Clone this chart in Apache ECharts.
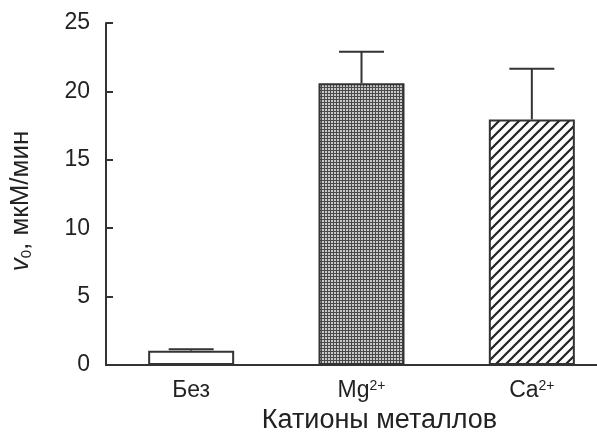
<!DOCTYPE html>
<html><head><meta charset="utf-8">
<script src="https://cdn.jsdelivr.net/npm/echarts@6/dist/echarts.min.js"></script>
<style>html,body{margin:0;padding:0;background:#fff}#c{width:597px;height:432px}</style>
</head><body><div id="c"></div>
<script>
const categories = ['Без', 'Mg2+', 'Ca2+'];
const values = [1.05, 20.6, 17.95];
const errors = [0.1, 2.3, 3.7];
const yTicks = [0, 5, 10, 15, 20, 25];

function hatch() {
  const c = document.createElement('canvas'); c.width = 10; c.height = 10;
  const g = c.getContext('2d');
  g.fillStyle = '#fff'; g.fillRect(0, 0, 10, 10);
  g.strokeStyle = '#222'; g.lineWidth = 2.2;
  g.beginPath();
  g.moveTo(-5, 5); g.lineTo(5, -5);
  g.moveTo(0, 10); g.lineTo(10, 0);
  g.moveTo(5, 15); g.lineTo(15, 5);
  g.stroke();
  return c;
}
function dots() {
  const c = document.createElement('canvas'); c.width = 3; c.height = 3;
  const g = c.getContext('2d');
  g.fillStyle = '#4a4a4a'; g.fillRect(0, 0, 3, 3);
  g.fillStyle = '#c8c8c8'; g.fillRect(1, 1, 2, 2);
  return c;
}
const fills = ['#ffffff', { image: dots(), repeat: 'repeat' }, { image: hatch(), repeat: 'repeat' }];
const F = 'Liberation Sans';

const chart = echarts.init(document.getElementById('c'));
chart.setOption({
  animation: false,
  grid: { left: 106, top: 23, width: 511, height: 342, containLabel: false, outerBoundsMode: 'none' },
  xAxis: {
    type: 'category', data: categories,
    axisLine: { lineStyle: { color: '#333', width: 2 } },
    axisTick: { show: false },
    axisLabel: {
      margin: 14, color: '#222', fontSize: 23, fontFamily: F,
      formatter: v => v.replace(/(\d\+)$/, '{s|$1}'),
      rich: { s: { fontSize: 14, verticalAlign: 'top', color: '#222', fontFamily: F, padding: [0, 0, 9, 0] } }
    },
    name: 'Катионы металлов', nameLocation: 'middle', nameGap: 42,
    nameTextStyle: { fontSize: 27, color: '#222', fontFamily: F, padding: [0, 0, 0, 36] }
  },
  yAxis: {
    type: 'value', min: yTicks[0], max: yTicks[yTicks.length - 1], interval: 5,
    splitLine: { show: false },
    axisLine: { show: true, lineStyle: { color: '#333', width: 2 } },
    axisTick: { show: true, inside: true, length: 7, lineStyle: { color: '#333', width: 2 } },
    axisLabel: { margin: 16, color: '#222', fontSize: 23, fontFamily: F },
    name: '{i|v}{sub|0}{t|, мкМ/мин}', nameLocation: 'middle', nameGap: 72, nameRotate: 90,
    nameTextStyle: {
      fontSize: 26, color: '#222', fontFamily: F, padding: [0, 14, 0, 0],
      rich: {
        i: { fontSize: 26, fontStyle: 'italic', color: '#222', fontFamily: F },
        t: { fontSize: 26, color: '#222', fontFamily: F },
        sub: { fontSize: 15, color: '#222', fontFamily: F, verticalAlign: 'bottom', padding: [11, 0, 0, 0] }
      }
    }
  },
  series: [
    {
      type: 'bar', barWidth: 86,
      data: values.map((v, i) => ({ value: v, itemStyle: { color: fills[i] } })),
      itemStyle: { borderColor: '#333', borderWidth: 2 }
    },
    {
      type: 'custom', z: 5,
      data: values.map((v, i) => [i, v, v + errors[i]]),
      renderItem: (params, api) => {
        const lo = api.coord([api.value(0), api.value(1)]);
        const hi = api.coord([api.value(0), api.value(2)]);
        const hw = 22.5;
        const st = { stroke: '#333', lineWidth: 2 };
        return { type: 'group', children: [
          { type: 'line', shape: { x1: lo[0], y1: lo[1], x2: hi[0], y2: hi[1] }, style: st },
          { type: 'line', shape: { x1: hi[0] - hw, y1: hi[1], x2: hi[0] + hw, y2: hi[1] }, style: st }
        ] };
      }
    }
  ]
});
</script></body></html>
